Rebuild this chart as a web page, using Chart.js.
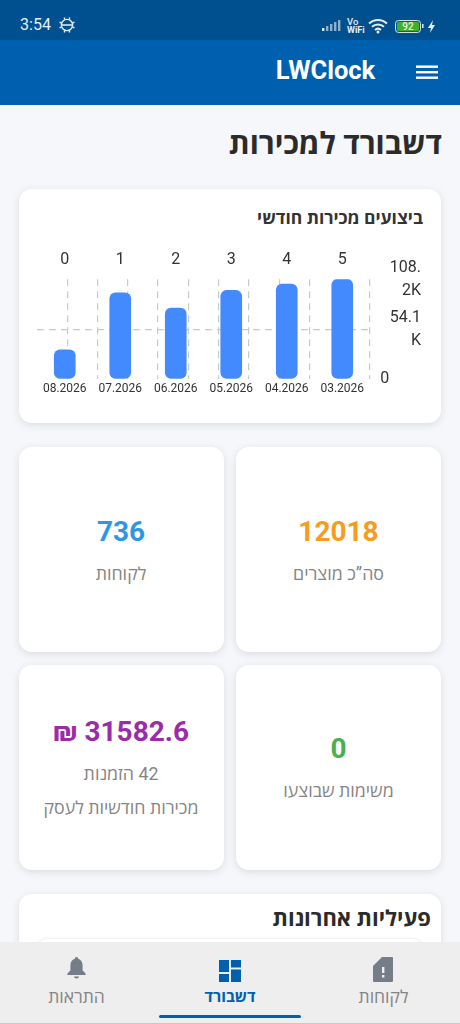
<!DOCTYPE html>
<html lang="he">
<head>
<meta charset="utf-8">
<title>LWClock</title>
<script src="https://cdn.jsdelivr.net/npm/chart.js@4/dist/chart.umd.min.js"></script>
<style>
*{box-sizing:border-box}
html,body{margin:0;padding:0;width:460px;height:1024px;overflow:hidden;background:#f5f7fa;font-family:Roboto,"Open Sans","Liberation Sans",sans-serif}
.abs{position:absolute}
.t{position:absolute;white-space:nowrap;line-height:1;transform:translate(-50%,-50%)}
.r{position:absolute;white-space:nowrap;line-height:1;direction:rtl;transform:translateY(-50%)}
#status{left:0;top:0;width:460px;height:40px;background:#00508f}
#head{left:0;top:40px;width:460px;height:65px;background:#0060b0}
.card{position:absolute;background:#fff;border-radius:13px;box-shadow:0 2px 8px rgba(0,0,0,.11)}
.num{font-size:28px;font-weight:700}
.lab{font-size:17.8px;color:#858585}
#nav{left:0;top:942px;width:460px;height:82px;background:#eeeeee;border-bottom:1px solid #c9c9c9}
canvas{position:absolute}
</style>
</head>
<body>
<div class="abs" id="status"></div>
<div class="t" style="left:35.5px;top:25px;font-size:16px;color:#e6eef5">3:54</div>
<svg class="abs" style="left:58px;top:16px" width="18" height="18" viewBox="0 0 18 18" fill="none" stroke="#e6eef5" stroke-width="1.4"><circle cx="9" cy="9" r="5.6"/><path d="M3.4 9h11.200M1.500 6.500h2M14.500 6.500h2M1.500 11.500h2M14.500 11.500h2M6.500 1.500v2M11.500 1.500v2M6.500 14.500v2M11.500 14.500v2"/></svg>
<svg class="abs" style="left:321px;top:17px" width="122" height="17" viewBox="0 0 122 17">
  <g fill="#8fb0cc"><rect x="1" y="11" width="2.4" height="3" fill="#e6eef5"/><rect x="5" y="9" width="2.4" height="5"/><rect x="9" y="7" width="2.4" height="7"/><rect x="13" y="5" width="2.4" height="9"/><rect x="17" y="3" width="2.4" height="11"/></g>
  <text x="26" y="8" font-size="9.5" font-family="Roboto" font-weight="500" fill="#e6eef5">Vo</text>
  <text x="26" y="16" font-size="9" font-family="Roboto" font-weight="700" fill="#e6eef5">WiFi</text>
  <g fill="none" stroke="#e6eef5" stroke-width="2"><path d="M48 6.500a13 13 0 0 1 18 0"/><path d="M51 9.800a9 9 0 0 1 12 0"/><path d="M54 13a4.500 4.500 0 0 1 6 0"/></g>
  <circle cx="57" cy="15" r="1.5" fill="#e6eef5"/>
  <rect x="74.5" y="3.5" width="25" height="12" rx="3" fill="#0a5a8f" stroke="#cfe0ea"/><rect x="76" y="5" width="22" height="9" rx="1.5" fill="#43b02a"/>
  <text x="87" y="13" font-size="10" text-anchor="middle" font-family="Roboto" font-weight="500" fill="#e8f5e0">92</text>
  <rect x="101" y="7" width="1.6" height="4" fill="#cfe0ea"/>
  <path d="M112 3l-5 8h3l-1 5 5-8h-3z" fill="#e6eef5"/>
</svg>

<div class="abs" id="head"></div>
<div class="t" style="left:325.5px;top:71px;font-size:25.5px;font-weight:700;color:#fff">LWClock</div>
<svg class="abs" style="left:416px;top:65px" width="23" height="15"><g fill="#fff"><rect y="0.5" width="22" height="2.4"/><rect y="6" width="22" height="2.4"/><rect y="11.5" width="22" height="2.4"/></g></svg>

<div class="r" style="right:18px;top:144px;font-size:30px;font-weight:700;color:#2b2b2b">דשבורד למכירות</div>

<div class="card" style="left:19px;top:189px;width:422px;height:234px"></div>
<div class="r" style="right:37px;top:219px;font-size:17.5px;font-weight:700;color:#333">ביצועים מכירות חודשי</div>
<canvas id="chart" style="left:20px;top:240px;width:420px;height:160px" width="420" height="160"></canvas>

<div class="card" style="left:236px;top:447px;width:205px;height:205px"></div>
<div class="t num" style="left:338.5px;top:532px;color:#f79c1d">12018</div>
<div class="t lab" style="left:338.5px;top:574px;direction:rtl">סה”כ מוצרים</div>

<div class="card" style="left:19px;top:447px;width:205px;height:205px"></div>
<div class="t num" style="left:121px;top:532px;color:#2f96e6">736</div>
<div class="t lab" style="left:121px;top:574px;direction:rtl">לקוחות</div>

<div class="card" style="left:236px;top:665px;width:205px;height:205px"></div>
<div class="t num" style="left:338.5px;top:749px;color:#4caf50">0</div>
<div class="t lab" style="left:338.5px;top:791px;direction:rtl">משימות שבוצעו</div>

<div class="card" style="left:19px;top:665px;width:205px;height:205px"></div>
<div class="t num" style="left:121px;top:732px;color:#9c2ba8;direction:ltr">₪ 31582.6</div>
<div class="t lab" style="left:121px;top:774px;direction:rtl">42 הזמנות</div>
<div class="t lab" style="left:121px;top:808px;direction:rtl">מכירות חודשיות לעסק</div>

<div class="card" style="left:19px;top:894px;width:422px;height:120px"></div>
<div class="r" style="right:29px;top:919px;font-size:22px;font-weight:700;color:#2b2b2b">פעיליות אחרונות</div>
<div class="abs" style="left:37px;top:939px;width:386px;height:20px;border-radius:10px;background:#fff;box-shadow:0 0 3px rgba(0,0,0,.15)"></div>

<div class="abs" id="nav"></div>
<svg class="abs" style="left:66px;top:956px" width="21" height="26" viewBox="0 0 21 26"><path fill="#757d89" d="M10.5 1a1.7 1.7 0 0 1 1.7 1.8c3 .9 4.4 3.5 4.4 6.6v5l3 3.2v1.4H1.4v-1.4l3-3.2v-5c0-3.1 1.4-5.7 4.4-6.6A1.7 1.7 0 0 1 10.500 1z"/><path fill="#757d89" d="M8 20.500h5a2.500 2 0 0 1-5 0z"/></svg>
<div class="t" style="left:76.500px;top:998px;font-size:17.500px;color:#858585;direction:rtl">התראות</div>
<svg class="abs" style="left:219px;top:960px" width="22" height="22" fill="#0060b0"><rect width="10" height="12"/><rect x="12" width="10" height="7.500"/><rect y="14" width="10" height="8"/><rect x="12" y="9.500" width="10" height="12.500"/></svg>
<div class="t" style="left:230px;top:998px;font-size:15.500px;font-weight:700;color:#0060b0;direction:rtl">דשבורד</div>
<div class="abs" style="left:159px;top:1015px;width:142px;height:3px;border-radius:2px;background:#0060b0"></div>
<svg class="abs" style="left:373px;top:957px" width="20" height="25" viewBox="0 0 20 25"><path fill="#757d89" d="M9 0h10a1 1 0 0 1 1 1v23a1 1 0 0 1-1 1H1a1 1 0 0 1-1-1V9z"/><rect x="9" y="10" width="2.400" height="6" fill="#eee"/><rect x="9" y="18" width="2.400" height="2.500" fill="#eee"/></svg>
<div class="t" style="left:383.500px;top:998px;font-size:17.500px;color:#858585;direction:rtl">לקוחות</div>

<script>
const monthLabels = ["08.2026", "07.2026", "06.2026", "05.2026", "04.2026", "03.2026"];
const topTickLabels = ["0", "1", "2", "3", "4", "5"];
const monthlySales = [31582.6, 93500, 77000, 96000, 103000, 108200];
const yTickValues = [0, 54100, 108200];
const yTickLabels = ["0\u00A0\u00A0\u00A0\u00A0\u00A0\u00A0\u00A0\u00A0", ["108.", "2K"], ["54.1", "K"]];
const yTickText = { 0: yTickLabels[0], 54100: yTickLabels[2], 108200: yTickLabels[1] };
const gridDivisions = 10;

const dash = [7, 5];
const gridColor = "#c4ccd0";

new Chart(document.getElementById("chart"), {
  type: "bar",
  data: {
    labels: monthLabels,
    datasets: [{
      data: monthlySales,
      backgroundColor: "#448aff",
      borderRadius: 6,
      borderSkipped: false,
      barThickness: 21,
      xAxisID: "x",
      yAxisID: "y"
    }]
  },
  options: {
    responsive: false,
    animation: false,
    devicePixelRatio: 1,
    layout: { padding: { left: 17, right: 19, top: 0, bottom: 0.6 } },
    plugins: { legend: { display: false }, tooltip: { enabled: false }, title: { display: false } },
    scales: {
      x: {
        position: "bottom",
        grid: { display: false, drawTicks: false },
        border: { display: false },
        ticks: { color: "#333", font: { family: "Roboto", size: 12 }, padding: 3, maxRotation: 0, autoSkip: false }
      },
      xTop: {
        type: "category",
        labels: topTickLabels,
        position: "top",
        grid: { display: false, drawTicks: false },
        border: { display: false },
        ticks: { color: "#333", font: { family: "Roboto", size: 16 }, padding: 10, maxRotation: 0, autoSkip: false }
      },
      xGrid: {
        type: "linear",
        position: "bottom",
        min: 0,
        max: gridDivisions,
        afterFit(scale) { scale.height = 0; },
        ticks: { display: false, stepSize: 1 },
        border: { display: false, dash: dash },
        grid: {
          drawTicks: false,
          color: (c) => (c.tick && (c.tick.value === 0 || c.tick.value === gridDivisions)) ? "transparent" : gridColor,
          lineWidth: 1.2
        }
      },
      y: {
        position: "right",
        min: 0,
        max: yTickValues[2],
        afterBuildTicks(scale) { scale.ticks = yTickValues.map((value) => ({ value })); },
        afterFit(scale) { scale.width = 51; scale.paddingTop = 0; scale.paddingBottom = 0; },
        border: { display: false, dash: dash },
        grid: {
          drawTicks: false,
          color: (c) => (c.tick && c.tick.value === yTickValues[1]) ? gridColor : "transparent",
          lineWidth: 1.2
        },
        ticks: {
          color: "#333",
          font: { family: "Roboto", size: 16, lineHeight: 1.45 },
          padding: 1,
          crossAlign: "far",
          autoSkip: false,
          callback: (v) => yTickText[v]
        }
      }
    }
  }
});
</script>
</body>
</html>
